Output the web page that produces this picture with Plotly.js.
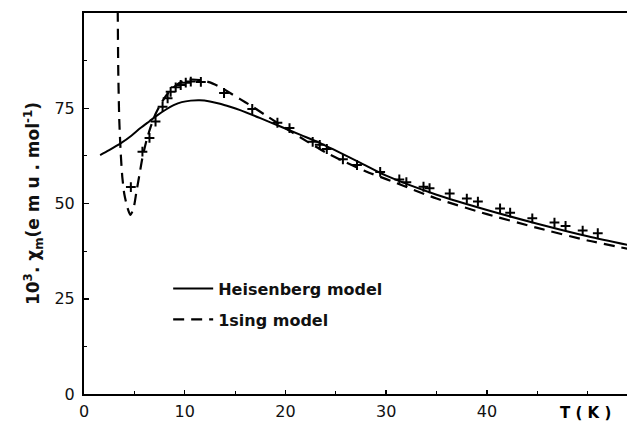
<!DOCTYPE html>
<html>
<head>
<meta charset="utf-8">
<script src="https://cdn.plot.ly/plotly-3.0.1.min.js"></script>
<style>html,body{margin:0;padding:0;background:#fff;}#chart{width:627px;height:421px;}</style>
</head>
<body>
<div id="chart"></div>
<script>
// Heisenberg model (solid curve)
const T_heis   = [1.6, 2.5, 3.7, 4.7, 5.6, 6.5, 7.3, 8.1, 8.9, 9.7, 10.6, 11.5, 12.5, 13.5, 14.5, 15.5, 17.5, 19.5, 21.5, 23.5, 25.2, 27.5, 30, 35, 40, 45, 50, 54];
const chi_heis = [62.7, 64.0, 65.9, 67.8, 69.8, 71.6, 73.2, 74.6, 75.8, 76.6, 77.0, 77.1, 76.8, 76.2, 75.4, 74.5, 72.4, 70.2, 68.0, 65.8, 63.6, 60.6, 57.3, 52.3, 48.3, 44.7, 41.4, 39.1];
// Ising model (dashed curve)
const T_ising   = [3.3, 3.35, 3.4, 3.5, 3.65, 3.8, 4.0, 4.3, 4.6, 4.9, 5.2, 5.5, 5.8, 6.2, 6.6, 7.1, 7.7, 8.5, 9.5, 10.5, 11.5, 12.5, 13.5, 14.5, 15.5, 16.5, 18, 20, 22, 24, 26, 28, 30, 35, 40, 45, 50, 54];
const chi_ising = [110, 100, 85, 72, 63, 57, 52.5, 49, 47, 48.5, 53, 57.5, 62, 66.5, 70, 73.5, 76.5, 79.5, 81.7, 82.5, 82.4, 81.8, 80.6, 79, 77.4, 75.8, 73.2, 69.8, 66.5, 63.4, 60.8, 58.4, 56.4, 51.3, 47.2, 43.6, 40.3, 38.1];
// Experimental points (+)
const T_exp   = [4.65, 5.8, 6.5, 7.1, 7.8, 8.3, 8.6, 9.1, 9.6, 10.1, 10.6, 11.6, 13.9, 16.7, 19.2, 20.4, 22.7, 23.4, 24.1, 25.7, 27.1, 29.4, 31.3, 32, 33.7, 34.3, 36.3, 38, 39.1, 41.3, 42.3, 44.5, 46.7, 47.8, 49.5, 51];
const chi_exp = [54.3, 63.6, 67.2, 71.5, 75.4, 77.6, 79.3, 80.5, 81.1, 81.7, 82, 81.9, 79, 74.8, 71.2, 69.8, 66.2, 65.4, 64.3, 61.6, 60.1, 58.3, 56.3, 55.6, 54.4, 54, 52.6, 51.3, 50.5, 48.7, 47.6, 46.1, 45, 44.1, 42.9, 42.2];
// Labels
const seriesNames = ['Heisenberg model', '1sing model'];
const xTicks = [0, 10, 20, 30, 40];
const yTicks = [0, 25, 50, 75];

const FONT = 'DejaVu Sans, Arial, sans-serif';

const traces = [
  {x: T_heis, y: chi_heis, type: 'scatter', mode: 'lines', name: seriesNames[0],
   line: {color: '#000', width: 2, shape: 'spline', smoothing: 0.8}, legendgroup: 'a'},
  {x: T_ising, y: chi_ising, type: 'scatter', mode: 'lines', name: seriesNames[1],
   line: {color: '#000', width: 2.2, dash: '11px,7px', shape: 'spline', smoothing: 0.6}, legendgroup: 'b'},
  {x: T_exp, y: chi_exp, type: 'scatter', mode: 'markers', showlegend: false,
   marker: {symbol: 'cross-thin', size: 7, color: '#000', line: {color: '#000', width: 2}}}
];

const layout = {
  width: 627, height: 421,
  margin: {l: 84, r: 0, t: 13, b: 27},
  paper_bgcolor: '#fff', plot_bgcolor: '#fff',
  font: {family: FONT, color: '#000', size: 16},
  showlegend: true,
  legend: {x: 0.155, y: 0.321, xanchor: 'left', yanchor: 'top', bgcolor: 'rgba(0,0,0,0)',
           font: {family: FONT, size: 16, color: '#111', weight: 'bold'}, tracegroupgap: 7, itemwidth: 40},
  xaxis: {range: [0, 53.9], tickvals: xTicks, ticks: 'inside', ticklen: 4, tickwidth: 1.5, tickcolor: '#000',
          showline: true, linecolor: '#000', linewidth: 2, mirror: true, showgrid: false, zeroline: false,
          tickfont: {family: FONT, size: 16, color: '#111'}, ticklabelstandoff: 2,
          minor: {dtick: 5, ticks: 'inside', ticklen: 3, tickcolor: '#000', tickwidth: 1}},
  yaxis: {range: [0, 100], tickvals: yTicks, ticks: 'inside', ticklen: 5, tickwidth: 1.5, tickcolor: '#000',
          showline: true, linecolor: '#000', linewidth: 2, showgrid: false, zeroline: false,
          tickfont: {family: FONT, size: 16, color: '#111'}, ticklabelstandoff: 4,
          minor: {dtick: 12.5, ticks: 'inside', ticklen: 3, tickcolor: '#000', tickwidth: 1},
          title: {text: '10<sup>3</sup>. χ<sub>m</sub>(e m u . mol<sup>-1</sup>)', standoff: 10,
                  font: {family: FONT, size: 17, weight: 'bold', color: '#111'}}},
  annotations: [
    {xref: 'paper', yref: 'paper', x: 0.975, y: -0.02, xanchor: 'right', yanchor: 'top',
     text: 'T ( K )', showarrow: false, font: {family: FONT, size: 15, weight: 'bold'}}
  ]
};

Plotly.newPlot('chart', traces, layout, {displayModeBar: false, staticPlot: true});
</script>
</body>
</html>
